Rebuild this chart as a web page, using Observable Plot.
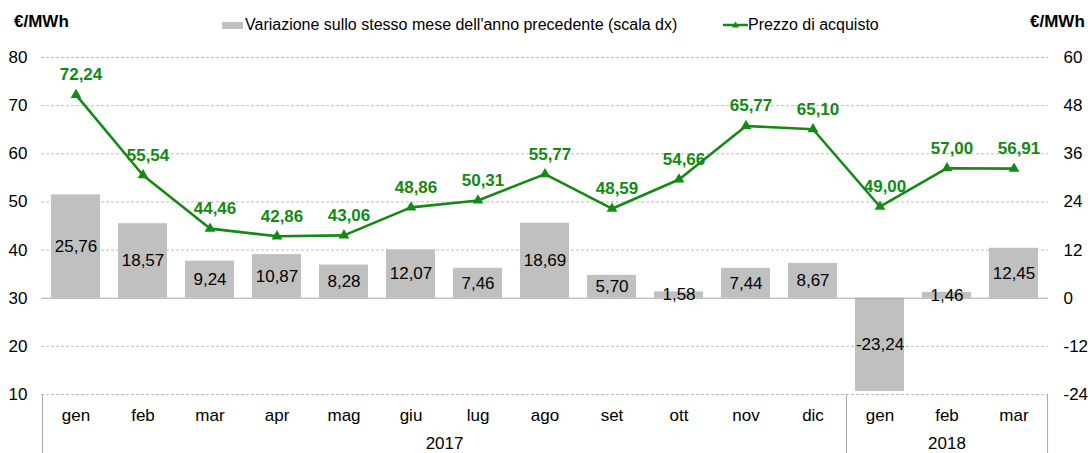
<!DOCTYPE html>
<html><head><meta charset="utf-8">
<script src="https://cdn.jsdelivr.net/npm/d3@7"></script>
<script src="https://cdn.jsdelivr.net/npm/@observablehq/plot@0.6"></script>
<style>
body{margin:0;background:#fff;font-family:"Liberation Sans",Arial,sans-serif;}
#wrap{position:relative;width:1088px;height:453px;}
.t{position:absolute;white-space:nowrap;font-size:16px;color:#000;line-height:1;}
</style></head><body>
<div id="wrap">
  <div class="t" style="left:14px;top:13px;font-weight:bold;font-size:17px;">€/MWh</div>
  <div class="t" style="left:1030px;top:13px;font-weight:bold;font-size:17px;">€/MWh</div>
  <div class="t" style="left:222px;top:17px;display:flex;align-items:center;"><span style="display:inline-block;width:21px;height:7px;background:#c0c0c0;margin-right:2px"></span>Variazione sullo stesso mese dell'anno precedente (scala dx)</div>
  <div class="t" style="left:723px;top:17px;display:flex;align-items:center;"><svg width="25" height="10"><line x1="0" y1="5" x2="25" y2="5" stroke="#138a13" stroke-width="2.5"/><path d="M12.5 1.5 L16 7.5 L9 7.5 Z" fill="#138a13"/></svg>Prezzo di acquisto</div>
</div>
<script>
const months = ["gen","feb","mar","apr","mag","giu","lug","ago","set","ott","nov","dic","gen","feb","mar"];
const years  = ["2017","2017","2017","2017","2017","2017","2017","2017","2017","2017","2017","2017","2018","2018","2018"];
const price  = [72.24,55.54,44.46,42.86,43.06,48.86,50.31,55.77,48.59,54.66,65.77,65.10,49.00,57.00,56.91];
const variation = [25.76,18.57,9.24,10.87,8.28,12.07,7.46,18.69,5.70,1.58,7.44,8.67,-23.24,1.46,12.45];
const leftTicks = [10,20,30,40,50,60,70,80];
const rightTicks = [-24,-12,0,12,24,36,48,60];

const W = 1088, H = 453, mL = 41, mR = 40, mT = 57, mB = 59;
const step = (W - mL - mR) / months.length;
const green = "#138a13";
const toLeft = v => 30 + v / 1.2;
const fmt = v => v.toFixed(2).replace(".", ",");

const keys = months.map((m, i) => years[i] + " " + m);
const data = keys.map((k, i) => ({key: k, month: months[i], year: years[i], price: price[i], variation: variation[i]}));

const yearNames = [...new Set(years)];
const yearGroups = yearNames.map(y => {
  const first = years.indexOf(y), last = years.lastIndexOf(y);
  const mid = (first + last) / 2;
  return {year: y, firstKey: keys[first], key: keys[Math.floor(mid)], dx: (mid - Math.floor(mid)) * step};
});

const chart = Plot.plot({
  width: W, height: H,
  marginLeft: mL, marginRight: mR, marginTop: mT, marginBottom: mB,
  style: {fontFamily: '"Liberation Sans", Arial, sans-serif', fontSize: "17px", color: "#000", overflow: "visible"},
  x: {domain: keys, paddingInner: 0.275, paddingOuter: 0.1375, axis: null},
  y: {domain: [10, 80], axis: null},
  marks: [
    Plot.ruleY(leftTicks.filter(t => t !== 30), {y: d => d, stroke: "#bdbdbd", strokeDasharray: "3,2", strokeWidth: 1}),
    Plot.barY(data, {x: "key", y1: 30, y2: d => toLeft(d.variation), fill: "#c0c0c0"}),
    Plot.ruleY([30], {stroke: "#a6a6a6", strokeWidth: 1}),
    Plot.text(data, {x: "key", y: d => toLeft(d.variation / 2), text: d => fmt(d.variation), fill: "#000", fontSize: 17}),
    Plot.axisY({anchor: "left", label: null, ticks: leftTicks, tickSize: 0, tickPadding: 14, tickFormat: d => d, fontSize: 17}),
    Plot.axisY({anchor: "right", label: null, ticks: rightTicks.map(toLeft), tickSize: 0, tickPadding: 15, textAnchor: "start",
      tickFormat: d => String(Math.round((d - 30) * 1.2)), fontSize: 17}),
    Plot.ruleX(yearGroups, {x: "firstKey", dx: -step / 2, y1: 10, y2: 10, insetBottom: -mB, stroke: "#a6a6a6"}),
    Plot.ruleX([keys[keys.length - 1]], {x: d => d, dx: step / 2, y1: 10, y2: 10, insetBottom: -mB, stroke: "#a6a6a6"}),
    Plot.text(data, {x: "key", text: "month", frameAnchor: "bottom", lineAnchor: "middle", dy: 21, fontSize: 17}),
    ...yearGroups.map(g => Plot.text([g], {x: "key", dx: g.dx, text: "year", frameAnchor: "bottom", lineAnchor: "middle", dy: 49, fontSize: 17})),
    Plot.line(data, {x: "key", y: "price", stroke: green, strokeWidth: 2.6}),
    Plot.dot(data, {x: "key", y: "price", symbol: "triangle", r: 4, fill: green}),
    Plot.text(data, {x: "key", y: "price", text: d => fmt(d.price), fill: green, fontWeight: "bold", fontSize: 17, dy: -20, dx: 5})
  ]
});
document.getElementById("wrap").prepend(chart);
chart.style.position = "absolute"; chart.style.left = "0"; chart.style.top = "0";
</script>
</body></html>
